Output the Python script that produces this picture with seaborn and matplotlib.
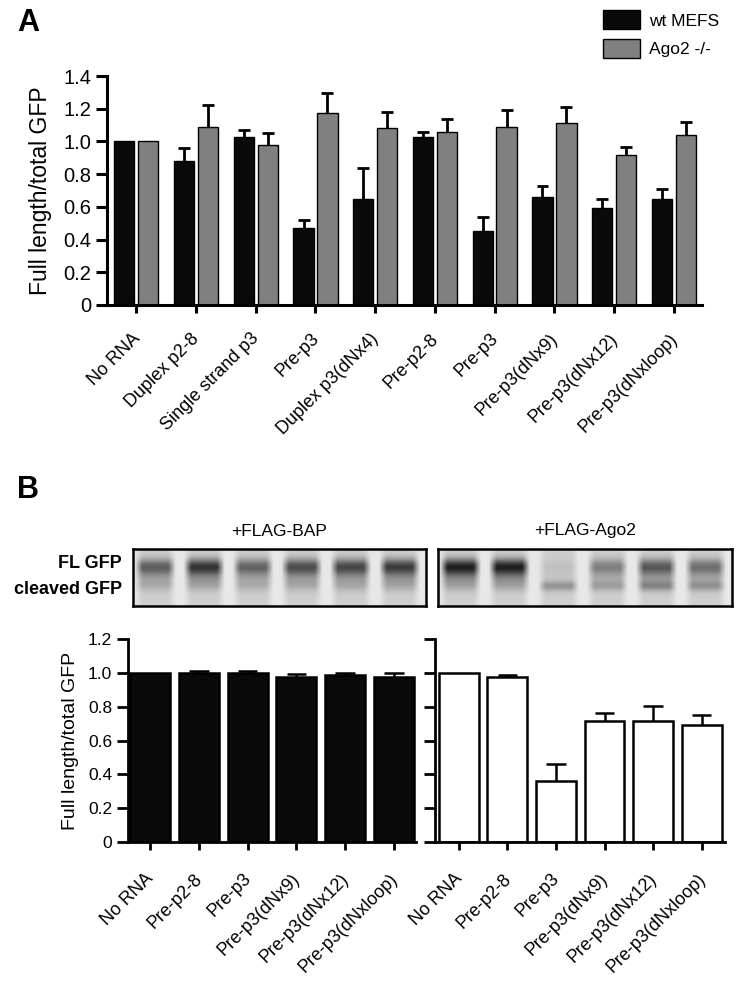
import numpy as np
import pandas as pd
import matplotlib
matplotlib.use("Agg")
import matplotlib.pyplot as plt
import matplotlib.transforms as mtransforms
import seaborn as sns

# panel A data
conditions_a = ["No RNA", "Duplex p2-8", "Single strand p3", "Pre-p3", "Duplex p3(dNx4)",
                "Pre-p2-8", "Pre-p3", "Pre-p3(dNx9)", "Pre-p3(dNx12)", "Pre-p3(dNxloop)"]
wt_mefs = [1.00, 0.88, 1.03, 0.47, 0.65, 1.03, 0.45, 0.66, 0.59, 0.65]
wt_err = [0.0, 0.08, 0.04, 0.05, 0.19, 0.03, 0.09, 0.065, 0.057, 0.06]
ago2_ko = [1.00, 1.09, 0.98, 1.175, 1.08, 1.06, 1.09, 1.11, 0.92, 1.04]
ago2_ko_err = [0.0, 0.13, 0.07, 0.12, 0.10, 0.077, 0.105, 0.10, 0.047, 0.08]

# panel B data
conditions_b = ["No RNA", "Pre-p2-8", "Pre-p3", "Pre-p3(dNx9)", "Pre-p3(dNx12)", "Pre-p3(dNxloop)"]
flag_bap = [1.0, 1.0, 1.0, 0.978, 0.988, 0.978]
flag_bap_err = [0.0, 0.012, 0.013, 0.014, 0.012, 0.02]
flag_ago2 = [1.0, 0.975, 0.36, 0.714, 0.718, 0.69]
flag_ago2_err = [0.0, 0.015, 0.104, 0.05, 0.088, 0.063]

# gel band darkness per lane (0 = blank, 1 = black)
bap_fl_band = [0.40, 0.55, 0.38, 0.46, 0.48, 0.52]
bap_cleaved_band = [0.06, 0.06, 0.06, 0.06, 0.06, 0.06]
ago2_fl_band = [0.62, 0.62, 0.05, 0.28, 0.42, 0.34]
ago2_cleaved_band = [0.05, 0.05, 0.22, 0.14, 0.22, 0.18]

sns.set_style("ticks")
plt.rcParams['font.family'] = ['Liberation Sans', 'DejaVu Sans']
for key in ["text.color", "axes.labelcolor", "xtick.color", "ytick.color", "axes.edgecolor"]:
    plt.rcParams[key] = "black"

fig = plt.figure(figsize=(7.4, 10), dpi=100)


def style_axis(ax, lw=2.0):
    sns.despine(ax=ax)
    for s in ["left", "bottom"]:
        ax.spines[s].set_linewidth(lw)
    ax.tick_params(axis="y", length=8, width=lw)
    ax.tick_params(axis="x", length=6, width=lw)


def shift_labels(ax, dx_px, dy_px):
    off = mtransforms.ScaledTranslation(dx_px / 100, dy_px / 100, fig.dpi_scale_trans)
    for lab in ax.get_xticklabels():
        lab.set_transform(lab.get_transform() + off)


def up_errors(ax, xs, vals, errs, cap_half, lw=1.8):
    for x, v, e in zip(xs, vals, errs):
        if e <= 0:
            continue
        ax.vlines(x, v, v + e, color="black", lw=lw, zorder=1)
        ax.hlines(v + e, x - cap_half, x + cap_half, color="black", lw=lw, zorder=1)


# ---------- panel A ----------
df_a = pd.DataFrame({
    "pos": list(range(len(conditions_a))) * 2,
    "value": wt_mefs + ago2_ko,
    "cell": ["wt MEFS"] * len(conditions_a) + ["Ago2 -/-"] * len(conditions_a),
})
ax_a = fig.add_axes([107 / 740, 1 - 305 / 1000, 595 / 740, 229 / 1000])
sns.barplot(data=df_a, x="pos", y="value", hue="cell", ax=ax_a,
            palette={"wt MEFS": "#0a0a0a", "Ago2 -/-": "#808080"},
            width=0.8, gap=0.15, errorbar=None, edgecolor="black", linewidth=1.0)
for cont, vals, errs in zip(ax_a.containers, [wt_mefs, ago2_ko], [wt_err, ago2_ko_err]):
    xs = [p.get_x() + p.get_width() / 2 for p in cont]
    up_errors(ax_a, xs, vals, errs, 0.1, lw=2.0)
ax_a.set_ylim(0, 1.4)
ax_a.set_xlim(-0.49, 9.47)
ax_a.set_yticks(np.arange(0, 1.41, 0.2))
ax_a.set_yticklabels(["0"] + [f"{v:.1f}" for v in np.arange(0.2, 1.41, 0.2)], fontsize=14.5)
ax_a.set_xticks(range(len(conditions_a)))
ax_a.set_xticklabels(conditions_a, rotation=45, ha="right", rotation_mode="anchor", fontsize=13)
ax_a.set_xlabel("")
ax_a.set_ylabel("Full length/total GFP", fontsize=16.5, labelpad=8)
style_axis(ax_a, 2.2)
shift_labels(ax_a, -5, -12)
sns.move_legend(ax_a, "upper left", bbox_to_anchor=(593 / 740, 1.0),
                bbox_transform=fig.transFigure, frameon=False, title=None,
                fontsize=12.5, handlelength=2.1, handleheight=1.3, labelspacing=0.55,
                handletextpad=0.5, borderaxespad=0.2)

# ---------- gel ----------
def gel_image(fl, cl, ncol=300, nrow=60):
    img = np.zeros((nrow, ncol))
    lane_w = ncol / len(fl)
    rows = np.arange(nrow)[:, None]
    for i, (f, c) in enumerate(zip(fl, cl)):
        c0 = int(round(i * lane_w))
        c1 = int(round((i + 1) * lane_w))
        cols = np.arange(c0, c1)
        u = (cols - c0) / (c1 - c0)
        prof = np.clip(np.sin(np.pi * np.clip((u - 0.03) / 0.84, 0, 1)) * 1.8, 0, 1)[None, :]
        band = f * np.exp(-((rows - 0.30 * nrow) / (0.14 * nrow)) ** 2)
        tail = 0.35 * f * np.exp(-((rows - 0.50 * nrow) / (0.18 * nrow)) ** 2)
        cut = c * np.exp(-((rows - 0.64 * nrow) / (0.09 * nrow)) ** 2)
        img[:, c0:c1] = 0.19 + (band + tail + cut) * prof - 0.1 * (1 - prof)
    return np.clip(img, 0, 1)


for x0, x1, fl, cl, title in [(133, 426, bap_fl_band, bap_cleaved_band, "+FLAG-BAP"),
                              (438, 732, ago2_fl_band, ago2_cleaved_band, "+FLAG-Ago2")]:
    gax = fig.add_axes([x0 / 740, 1 - 606 / 1000, (x1 - x0) / 740, 57 / 1000])
    gax.imshow(gel_image(fl, cl), cmap="gray_r", vmin=0, vmax=1, aspect="auto",
               interpolation="bicubic")
    gax.set_xticks([])
    gax.set_yticks([])
    for s in gax.spines.values():
        s.set_linewidth(1.8)
    fig.text((x0 + x1) / 2 / 740, 1 - 531 / 1000, title, ha="center", va="center", fontsize=12.5)

fig.text(122 / 740, 1 - 564 / 1000, "FL GFP", ha="right", va="center", fontsize=13, weight="bold")
fig.text(122 / 740, 1 - 590 / 1000, "cleaved GFP", ha="right", va="center", fontsize=13, weight="bold")

# ---------- panel B ----------
ax_b1 = fig.add_axes([128 / 740, 1 - 842 / 1000, 288 / 740, 202.8 / 1000])
ax_b2 = fig.add_axes([435 / 740, 1 - 842 / 1000, 290 / 740, 202.8 / 1000])
for ax, vals, errs, color, xlim in [(ax_b1, flag_bap, flag_bap_err, "#0a0a0a", (-0.45, 5.45)),
                                    (ax_b2, flag_ago2, flag_ago2_err, "white", (-0.49, 5.48))]:
    df_b = pd.DataFrame({"cond": conditions_b, "value": vals})
    sns.barplot(data=df_b, x="cond", y="value", ax=ax, color=color, saturation=1,
                width=0.82, errorbar=None, edgecolor="black", linewidth=1.8)
    xs = [p.get_x() + p.get_width() / 2 for p in ax.containers[0]]
    up_errors(ax, xs, vals, errs, 0.2, lw=1.8)
    ax.set_ylim(0, 1.2)
    ax.set_xlim(*xlim)
    ax.set_yticks(np.arange(0, 1.21, 0.2))
    ax.set_xticks(range(len(conditions_b)))
    ax.set_xticklabels(conditions_b, rotation=45, ha="right", rotation_mode="anchor", fontsize=13)
    ax.set_xlabel("")
    style_axis(ax, 2.0)
    shift_labels(ax, -5, -15)

ax_b1.set_yticklabels(["0"] + [f"{v:.1f}" for v in np.arange(0.2, 1.21, 0.2)], fontsize=12.5)
ax_b1.set_ylabel("Full length/total GFP", fontsize=14, labelpad=6)
ax_b2.set_yticklabels([])
ax_b2.set_ylabel("")

fig.text(17 / 740, 1 - 23 / 1000, "A", fontsize=22, weight="bold", ha="left", va="center")
fig.text(17 / 740, 1 - 490 / 1000, "B", fontsize=22, weight="bold", ha="left", va="center")

fig.savefig("out.png", dpi=100)
